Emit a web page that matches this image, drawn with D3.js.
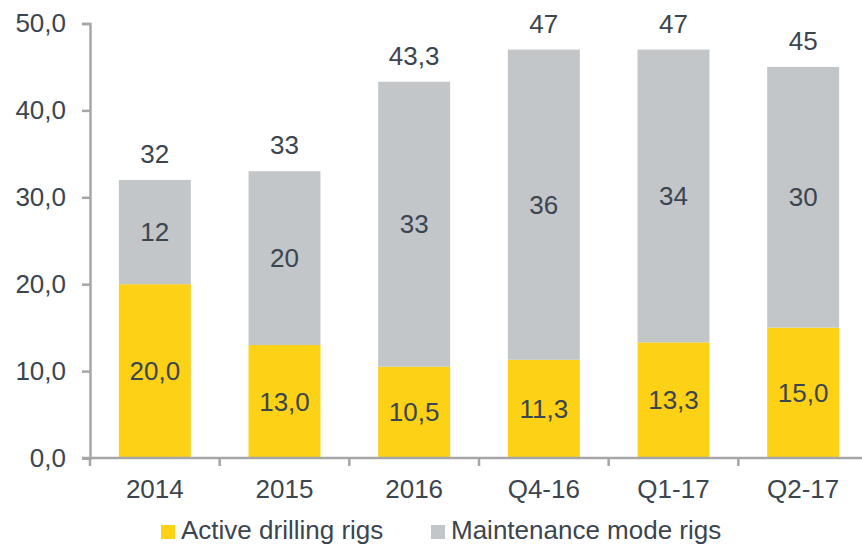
<!DOCTYPE html>
<html>
<head>
<meta charset="utf-8">
<script src="https://cdn.jsdelivr.net/npm/d3@7"></script>
<style>
  body { margin: 0; background: #fff; }
  text { font-family: "Liberation Sans", Arial, sans-serif; fill: #3b4550; }
</style>
</head>
<body>
<script>
// chart data
var categories = ["2014", "2015", "2016", "Q4-16", "Q1-17", "Q2-17"];
var activeRigs = [20.0, 13.0, 10.5, 11.3, 13.3, 15.0];
var maintenanceRigs = [12, 20, 32.8, 35.7, 33.7, 30];
var maintenanceLabels = ["12", "20", "33", "36", "34", "30"];
var totalLabels = ["32", "33", "43,3", "47", "47", "45"];
var seriesNames = ["Active drilling rigs", "Maintenance mode rigs"];
var yTicks = [0, 10, 20, 30, 40, 50];

var width = 862, height = 544;
var colors = ["#fcd116", "#c3c6c9"];
var axisColor = "#a6a6a6";
var fontSize = "26px";

var svg = d3.select("body").append("svg")
    .attr("width", width)
    .attr("height", height);

var x = d3.scaleBand()
    .domain(categories)
    .range([90, 868])
    .paddingInner(0.445)
    .paddingOuter(0.2225);

var y = d3.scaleLinear()
    .domain([0, 50])
    .range([458, 23.5]);

var fmt = function (d) { return d3.format(".1f")(d).replace(".", ","); };

// bars
var rows = categories.map(function (c, i) {
    return { cat: c, active: activeRigs[i], maint: maintenanceRigs[i], i: i };
});

var g = svg.append("g");

g.selectAll(".active")
    .data(rows)
    .enter().append("rect")
    .attr("class", "active")
    .attr("x", function (d) { return x(d.cat); })
    .attr("width", x.bandwidth())
    .attr("y", function (d) { return y(d.active); })
    .attr("height", function (d) { return y(0) - y(d.active); })
    .attr("fill", colors[0]);

g.selectAll(".maint")
    .data(rows)
    .enter().append("rect")
    .attr("class", "maint")
    .attr("x", function (d) { return x(d.cat); })
    .attr("width", x.bandwidth())
    .attr("y", function (d) { return y(d.active + d.maint); })
    .attr("height", function (d) { return y(d.active) - y(d.active + d.maint); })
    .attr("fill", colors[1]);

// labels
g.selectAll(".lblA")
    .data(rows)
    .enter().append("text")
    .attr("x", function (d) { return x(d.cat) + x.bandwidth() / 2; })
    .attr("y", function (d) { return y(d.active / 2); })
    .attr("dy", "0.35em")
    .attr("text-anchor", "middle")
    .style("font-size", fontSize)
    .text(function (d) { return fmt(d.active); });

g.selectAll(".lblM")
    .data(rows)
    .enter().append("text")
    .attr("x", function (d) { return x(d.cat) + x.bandwidth() / 2; })
    .attr("y", function (d) { return y(d.active + d.maint / 2); })
    .attr("dy", "0.35em")
    .attr("text-anchor", "middle")
    .style("font-size", fontSize)
    .text(function (d) { return maintenanceLabels[d.i]; });

g.selectAll(".lblT")
    .data(rows)
    .enter().append("text")
    .attr("x", function (d) { return x(d.cat) + x.bandwidth() / 2; })
    .attr("y", function (d) { return y(d.active + d.maint) - 17; })
    .attr("text-anchor", "middle")
    .style("font-size", fontSize)
    .text(function (d) { return totalLabels[d.i]; });

// y axis
var yAxis = svg.append("g")
    .attr("transform", "translate(90,0)")
    .call(d3.axisLeft(y).tickValues(yTicks).tickFormat(fmt).tickSize(8).tickPadding(16));

// x axis with ticks between categories
var xAxis = svg.append("g")
    .attr("transform", "translate(0," + y(0) + ")");
xAxis.append("line")
    .attr("x1", 82).attr("x2", 868)
    .attr("stroke", axisColor).attr("stroke-width", 2.5);
var bounds = categories.map(function (c) { return x(c) - x.step() * x.paddingInner() / 2; });
xAxis.selectAll(".xt")
    .data(bounds)
    .enter().append("line")
    .attr("x1", function (d) { return d; })
    .attr("x2", function (d) { return d; })
    .attr("y1", 0).attr("y2", 8)
    .attr("stroke", axisColor).attr("stroke-width", 2.5);
xAxis.selectAll(".xl")
    .data(categories)
    .enter().append("text")
    .attr("x", function (d) { return x(d) + x.bandwidth() / 2; })
    .attr("y", 40)
    .attr("text-anchor", "middle")
    .style("font-size", fontSize)
    .text(function (d) { return d; });

yAxis.select(".domain").attr("stroke", axisColor).attr("stroke-width", 2.5);
yAxis.selectAll(".tick line").attr("stroke", axisColor).attr("stroke-width", 2.5);
yAxis.selectAll(".tick text").style("font-size", fontSize).style("fill", "#3b4550")
    .style("font-family", "Liberation Sans, Arial, sans-serif");

// legend
var legendX = [161, 431];
var legend = svg.selectAll(".legend")
    .data(seriesNames)
    .enter().append("g")
    .attr("transform", function (d, i) { return "translate(" + legendX[i] + ",525)"; });
legend.append("rect")
    .attr("width", 14).attr("height", 14)
    .attr("fill", function (d, i) { return colors[i]; });
legend.append("text")
    .attr("x", 20).attr("y", 14)
    .style("font-size", fontSize)
    .text(function (d) { return d; });
</script>
</body>
</html>
